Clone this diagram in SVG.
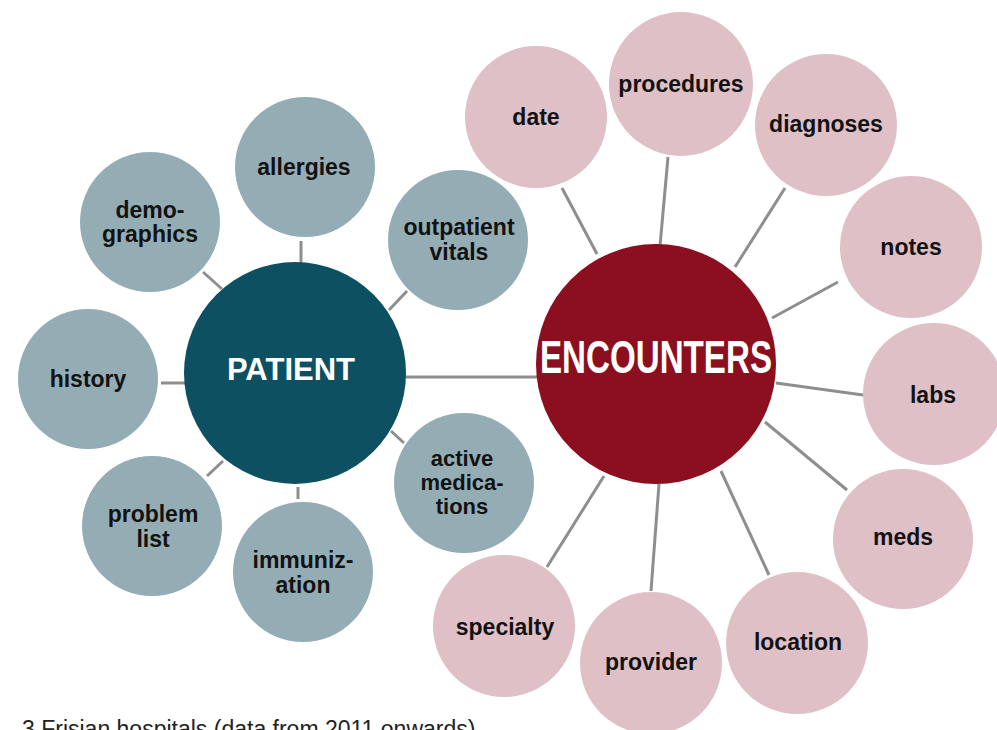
<svg xmlns="http://www.w3.org/2000/svg" width="997" height="730" viewBox="0 0 997 730">
  <style>
    .link { stroke: #8e8e8e; stroke-width: 3; fill: none; }
    .sat-p { fill: #94adb5; }
    .sat-e { fill: #dfc0c7; }
    .hub-p { fill: #0c5062; }
    .hub-e { fill: #8c0f1f; }
    .lbl { font-family: "Liberation Sans", Arial, sans-serif; font-weight: bold; font-size: 23px; fill: #121212; text-anchor: middle; }
    .lbl-s { font-size: 22px; }
    .hub-lbl { font-family: "Liberation Sans", Arial, sans-serif; font-weight: bold; fill: #ffffff; text-anchor: middle; }
    .caption { font-family: "Liberation Sans", Arial, sans-serif; font-size: 23px; fill: #222222; }
  </style>
  <rect width="997" height="730" fill="#ffffff"/>

  <!-- connectors -->
  <g id="connectors">
    <line class="link" x1="301" y1="241" x2="301" y2="263"/>
    <line class="link" x1="203" y1="272" x2="222" y2="289"/>
    <line class="link" x1="389" y1="310" x2="407" y2="291"/>
    <line class="link" x1="161" y1="383" x2="185" y2="383"/>
    <line class="link" x1="207" y1="476" x2="223" y2="461"/>
    <line class="link" x1="298" y1="487" x2="298" y2="499"/>
    <line class="link" x1="391" y1="431" x2="404" y2="443"/>
    <line class="link" x1="405" y1="377" x2="537" y2="377"/>
    <line class="link" x1="562" y1="188" x2="597" y2="254"/>
    <line class="link" x1="668" y1="157" x2="660" y2="246"/>
    <line class="link" x1="785" y1="188" x2="735" y2="267"/>
    <line class="link" x1="838" y1="282" x2="772" y2="318"/>
    <line class="link" x1="863" y1="395" x2="776" y2="383"/>
    <line class="link" x1="847" y1="490" x2="765" y2="422"/>
    <line class="link" x1="769" y1="575" x2="721" y2="471"/>
    <line class="link" x1="651" y1="591" x2="659" y2="484"/>
    <line class="link" x1="547" y1="567" x2="604" y2="476"/>
  </g>

  <!-- patient hub and its attributes -->
  <g id="patient">
    <circle class="hub-p" cx="295" cy="373" r="111"/>
    <text class="hub-lbl" x="291" y="380" font-size="31">PATIENT</text>
  </g>
  <g id="allergies">
    <circle class="sat-p" cx="305" cy="167" r="70"/>
    <text class="lbl" x="304" y="175">allergies</text>
  </g>
  <g id="demographics">
    <circle class="sat-p" cx="150" cy="222" r="70"/>
    <text class="lbl" x="150" y="218">demo-</text>
    <text class="lbl" x="150" y="242">graphics</text>
  </g>
  <g id="outpatient-vitals">
    <circle class="sat-p" cx="458" cy="240" r="70"/>
    <text class="lbl" x="459" y="235">outpatient</text>
    <text class="lbl" x="459" y="260">vitals</text>
  </g>
  <g id="history">
    <circle class="sat-p" cx="88" cy="379" r="70"/>
    <text class="lbl" x="88" y="387">history</text>
  </g>
  <g id="problem-list">
    <circle class="sat-p" cx="152" cy="526" r="70"/>
    <text class="lbl" x="153" y="522">problem</text>
    <text class="lbl" x="153" y="547">list</text>
  </g>
  <g id="immunization">
    <circle class="sat-p" cx="303" cy="572" r="70"/>
    <text class="lbl" x="303" y="568">immuniz-</text>
    <text class="lbl" x="303" y="593">ation</text>
  </g>
  <g id="active-medications">
    <circle class="sat-p" cx="464" cy="483" r="70"/>
    <text class="lbl lbl-s" x="462" y="466">active</text>
    <text class="lbl lbl-s" x="462" y="490">medica-</text>
    <text class="lbl lbl-s" x="462" y="514">tions</text>
  </g>

  <!-- encounters hub and its attributes -->
  <g id="encounters">
    <circle class="hub-e" cx="656" cy="364" r="120"/>
    <text class="hub-lbl" x="656" y="373" font-size="46" textLength="232" lengthAdjust="spacingAndGlyphs">ENCOUNTERS</text>
  </g>
  <g id="date">
    <circle class="sat-e" cx="536" cy="117" r="71"/>
    <text class="lbl" x="536" y="125">date</text>
  </g>
  <g id="procedures">
    <circle class="sat-e" cx="681" cy="84" r="72"/>
    <text class="lbl" x="681" y="92">procedures</text>
  </g>
  <g id="diagnoses">
    <circle class="sat-e" cx="826" cy="125" r="71"/>
    <text class="lbl" x="826" y="132">diagnoses</text>
  </g>
  <g id="notes">
    <circle class="sat-e" cx="911" cy="247" r="71"/>
    <text class="lbl" x="911" y="255">notes</text>
  </g>
  <g id="labs">
    <circle class="sat-e" cx="934" cy="394" r="71"/>
    <text class="lbl" x="933" y="403">labs</text>
  </g>
  <g id="meds">
    <circle class="sat-e" cx="903" cy="539" r="70"/>
    <text class="lbl" x="903" y="545">meds</text>
  </g>
  <g id="location">
    <circle class="sat-e" cx="797" cy="643" r="71"/>
    <text class="lbl" x="798" y="650">location</text>
  </g>
  <g id="provider">
    <circle class="sat-e" cx="651" cy="663" r="71"/>
    <text class="lbl" x="651" y="670">provider</text>
  </g>
  <g id="specialty">
    <circle class="sat-e" cx="504" cy="626" r="71"/>
    <text class="lbl" x="505" y="635">specialty</text>
  </g>

  <!-- caption, partly below the lower edge -->
  <text class="caption" x="22" y="737">3 Frisian hospitals (data from 2011 onwards)</text>
</svg>
